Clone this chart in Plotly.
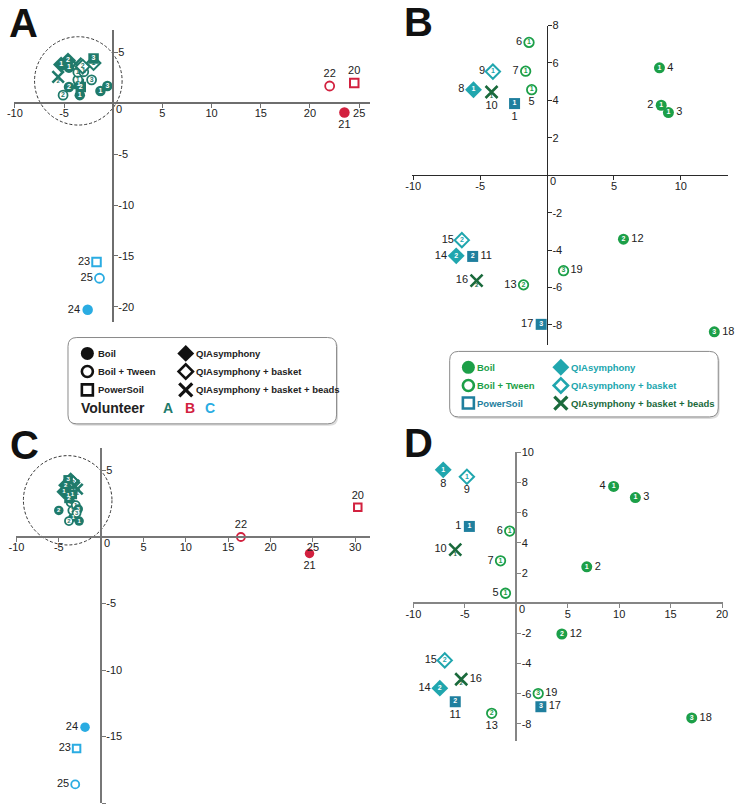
import plotly.graph_objects as go

W, H = 738, 807

# ---------------- data ----------------
sample_id = list(range(1, 26))
method = ["PowerSoil", "Boil", "Boil", "Boil", "Boil+Tween", "Boil+Tween", "Boil+Tween",
          "QIAsymphony", "QIAsymphony+basket", "QIAsymphony+basket+beads",
          "PowerSoil", "Boil", "Boil+Tween", "QIAsymphony", "QIAsymphony+basket",
          "QIAsymphony+basket+beads",
          "PowerSoil", "Boil", "Boil+Tween",
          "PowerSoil", "Boil", "Boil+Tween",
          "PowerSoil", "Boil", "Boil+Tween"]
replicate = ["1"] * 10 + ["2"] * 6 + ["3"] * 3 + [""] * 6
volunteer = ["A"] * 19 + ["B"] * 3 + ["C"] * 3

# Panel A (all 25 samples)
a_x = [-3.5, -3.4, -1.3, -4.5, -3.6, -3.6, -3.0, -5.3, -2.0, -3.8, -3.3, -4.5, -5.1,
       -4.6, -3.1, -5.6, -2.0, -0.6, -2.2, 24.5, 23.5, 22.0, -1.7, -2.6, -1.4]
a_y = [1.9, 0.8, 1.2, 3.5, 2.3, 3.05, 3.1, 3.8, 3.95, 3.9, 1.6, 1.6, 0.8,
       4.2, 3.6, 2.6, 4.4, 1.7, 2.3, 2.0, -0.9, 1.7, -15.6, -20.3, -17.2]

# Panel B (volunteer A samples 1-19)
b_x = [-2.43, 8.53, 9.07, 8.4, -1.15, -1.35, -1.6, -5.5, -4.05, -4.15, -5.56, 5.71,
       -1.76, -6.79, -6.37, -5.27, -0.44, 12.5, 1.23]
b_y = [3.83, 3.74, 3.35, 5.74, 4.57, 7.1, 5.56, 4.57, 5.54, 4.45, -4.34, -3.42,
       -5.86, -4.31, -3.47, -5.63, -7.97, -8.37, -5.1]
b_lab = ["bottom center", "middle left", "middle right", "middle right", "bottom center",
         "middle left", "middle left", "middle left", "middle left", "bottom center",
         "middle right", "middle right", "middle left", "middle left", "middle left",
         "middle left", "middle left", "middle right", "middle right"]

# Panel C (all 25 samples)
c_x = [-3.4, -3.3, -2.6, -3.9, -3.4, -3.6, -3.0, -4.4, -3.6, -2.8, -3.8, -5.0, -3.8,
       -4.2, -3.3, -3.2, -3.9, -2.7, -2.9, 30.3, 24.6, 16.5, -2.9, -1.9, -3.06]
c_y = [3.2, 1.5, 1.2, 3.1, 2.0, 2.6, 2.4, 3.4, 4.3, 3.6, 2.9, 2.0, 1.2,
       3.9, 4.1, 3.9, 4.3, 2.1, 1.8, 2.24, -1.24, 0.0, -15.9, -14.3, -18.6]

# Panel D (volunteer A samples 1-19)
d_x = [-4.56, 6.85, 11.57, 9.46, -1.05, -0.64, -1.53, -7.1, -4.8, -5.93, -5.93, 4.43,
       -2.39, -7.43, -6.95, -5.35, 2.39, 17.05, 2.13]
d_y = [5.09, 2.41, 7.0, 7.74, 0.66, 4.78, 2.81, 8.84, 8.38, 3.55, -6.53, -2.04,
       -7.3, -5.63, -3.79, -5.04, -6.86, -7.6, -5.99]
d_lab = ["middle left", "middle right", "middle right", "middle left", "middle left",
         "middle left", "middle left", "bottom center", "bottom center", "middle left",
         "bottom center", "middle right", "bottom center", "middle left", "middle left",
         "middle right", "middle right", "middle right", "middle right"]

# labels of the outlying samples 20-25 in panels A and C
ac_lab = ["top center", "bottom center", "top center", "middle left", "middle left", "middle left"]

# ticks
a_xticks = [-10, -5, 5, 10, 15, 20, 25]
a_yticks = [5, -5, -10, -15, -20]
b_xticks = [-10, -5, 5, 10]
b_yticks = [8, 6, 4, 2, -2, -4, -6, -8]
c_xticks = [-10, -5, 5, 10, 15, 20, 25, 30]
c_yticks = [5, -5, -10, -15, -20]
d_xticks = [-10, -5, 5, 10, 15, 20]
d_yticks = [10, 8, 6, 4, 2, -2, -4, -6, -8]

legend_methods_col1 = ["Boil", "Boil + Tween", "PowerSoil"]
legend_methods_col2 = ["QIAsymphony", "QIAsymphony + basket", "QIAsymphony + basket + beads"]
volunteer_names = ["A", "B", "C"]

# ---------------- styles ----------------
VOL_COLOR = {"A": "#1f7a6b", "B": "#d2213f", "C": "#2aace2"}
METH_COLOR = {"Boil": "#1c9f48", "Boil+Tween": "#1c9f48", "PowerSoil": "#1f7f9e",
              "QIAsymphony": "#20a6ae", "QIAsymphony+basket": "#20a6ae",
              "QIAsymphony+basket+beads": "#1a6a3c"}
FONT = "Liberation Sans, Arial, sans-serif"
LFONT = "Liberation Sans, Arial, sans-serif"

# panel geometry in pixels: origin (ox, oy), pixels per unit, axis ranges
GEOM = {
    1: dict(ox=108.0, sx=10.0, xr=(-10.1, 26.1), oy=98.0, sy=10.25, yr=(-21.5, 7.2),
            col="#6e6e6e", lw=1.6),
    2: dict(ox=549.0, sx=13.6, xr=(-10.1, 13.5), oy=170.5, sy=18.85, yr=(-9.1, 8.0),
            col="#2a2a2a", lw=1.3),
    3: dict(ox=95.7, sx=8.61, xr=(-10.1, 31.8), oy=535.0, sy=13.4, yr=(-20.0, 6.7),
            col="#777777", lw=2.0),
    4: dict(ox=517.7, sx=10.46, xr=(-10.05, 20.1), oy=601.7, sy=15.2, yr=(-9.1, 10.0),
            col="#858585", lw=2.4),
}

fig = go.Figure()
layout = dict(width=W, height=H, margin=dict(l=0, r=0, t=0, b=0),
              paper_bgcolor="white", plot_bgcolor="rgba(0,0,0,0)", showlegend=False)
annotations = []
shapes = []


def add_axes(n, xt, yt):
    g = GEOM[n]
    px_l = g["ox"] + g["sx"] * g["xr"][0]
    px_r = g["ox"] + g["sx"] * g["xr"][1]
    py_t = g["oy"] - g["sy"] * g["yr"][1]
    py_b = g["oy"] - g["sy"] * g["yr"][0]
    sfx = "" if n == 1 else str(n)
    common = dict(showline=True, linecolor=g["col"], linewidth=g["lw"], ticks="outside",
                  ticklen=4, tickwidth=1, tickcolor=g["col"], showgrid=False,
                  zeroline=False, fixedrange=True, anchor="free",
                  tickfont=dict(family=FONT, size=11, color="#222"))
    layout["xaxis" + sfx] = dict(common, domain=[px_l / W, px_r / W], range=list(g["xr"]),
                                 position=1 - g["oy"] / H, side="bottom",
                                 ticklabelstandoff=-4,
                                 tickvals=xt, ticktext=[str(v) for v in xt])
    layout["yaxis" + sfx] = dict(common, domain=[1 - py_b / H, 1 - py_t / H],
                                 range=list(g["yr"]), position=g["ox"] / W, side="right",
                                 ticklabelstandoff=-2,
                                 tickvals=yt, ticktext=[str(v) for v in yt])
    annotations.append(dict(xref="x" + sfx, yref="y" + sfx, x=0, y=0, text="0",
                            showarrow=False, xanchor="left", yanchor="top",
                            xshift=1, yshift=2, font=dict(family=FONT, size=11, color="#222")))


def marker_arrays(idx, colors, size):
    sym, fill, lcol, lw, txt, tcol, sz = [], [], [], [], [], [], []
    for i, c in zip(idx, colors):
        m, r = method[i], replicate[i]
        s = size
        if m == "Boil":
            sym.append("circle"); fill.append(c); lcol.append(c); lw.append(0)
            txt.append(r); tcol.append("white")
        elif m == "Boil+Tween":
            sym.append("circle"); fill.append("white"); lcol.append(c); lw.append(1.8)
            txt.append(r); tcol.append(c); s = size - 1.5
        elif m == "PowerSoil":
            if r:
                sym.append("square"); fill.append(c); lcol.append(c); lw.append(0)
                txt.append(r); tcol.append("white")
            else:
                sym.append("square"); fill.append("white"); lcol.append(c); lw.append(2)
                txt.append(""); tcol.append(c); s = size - 2
        elif m == "QIAsymphony":
            sym.append("diamond"); fill.append(c); lcol.append(c); lw.append(0)
            txt.append(r); tcol.append("white"); s = size + 2
        elif m == "QIAsymphony+basket":
            sym.append("diamond"); fill.append("white"); lcol.append(c); lw.append(2)
            txt.append(r); tcol.append(c); s = size
        else:
            sym.append("x-thin"); fill.append(c); lcol.append(c); lw.append(2.6)
            txt.append(""); tcol.append(c); s = size + 1
        sz.append(s)
    return sym, fill, lcol, lw, txt, tcol, sz


def add_points(n, xs, ys, idx, colors, size, lab_idx, lab_pos, numsize=7):
    sfx = "" if n == 1 else str(n)
    sym, fill, lcol, lw, txt, tcol, sz = marker_arrays(idx, colors, size)
    fig.add_trace(go.Scatter(
        x=xs, y=ys, mode="markers+text", xaxis="x" + sfx, yaxis="y" + sfx,
        marker=dict(symbol=sym, color=fill, size=sz, opacity=1,
                    line=dict(color=lcol, width=lw)),
        text=txt, textposition="middle center",
        textfont=dict(family=FONT, size=numsize, color=tcol, weight="bold"),
        hoverinfo="skip", cliponaxis=False))
    # replicate number below the X markers
    xi = [k for k, i in enumerate(idx) if method[i] == "QIAsymphony+basket+beads" and replicate[i]]
    if xi:
        fig.add_trace(go.Scatter(
            x=[xs[k] for k in xi], y=[ys[k] for k in xi], mode="markers+text",
            xaxis="x" + sfx, yaxis="y" + sfx, marker=dict(size=1, opacity=0),
            text=[replicate[idx[k]] for k in xi], textposition="bottom center",
            textfont=dict(family=FONT, size=6, color=[colors[k] for k in xi], weight="bold"),
            hoverinfo="skip", cliponaxis=False))
    # sample labels
    fig.add_trace(go.Scatter(
        x=[xs[k] for k in lab_idx], y=[ys[k] for k in lab_idx], mode="markers+text",
        xaxis="x" + sfx, yaxis="y" + sfx,
        marker=dict(size=[sz[k] for k in lab_idx], opacity=0),
        text=[str(sample_id[idx[k]]) for k in lab_idx], textposition=lab_pos,
        textfont=dict(family=FONT, size=11, color="#222"),
        hoverinfo="skip", cliponaxis=False))


# axes
add_axes(1, a_xticks, a_yticks)
add_axes(2, b_xticks, b_yticks)
add_axes(3, c_xticks, c_yticks)
add_axes(4, d_xticks, d_yticks)

all_idx = list(range(25))
volA_idx = list(range(19))
vol_colors = [VOL_COLOR[v] for v in volunteer]
meth_colors = [METH_COLOR[method[i]] for i in volA_idx]

# dashed circles round the volunteer-A cluster (pixel radius 44-45)
for n, cx, cy, rpx in [(1, -3.55, 2.2, 44.5), (3, -3.95, 2.76, 45.0)]:
    g = GEOM[n]
    sfx = "" if n == 1 else str(n)
    shapes.append(dict(type="circle", xref="x" + sfx, yref="y" + sfx,
                       x0=cx - rpx / g["sx"], x1=cx + rpx / g["sx"],
                       y0=cy - rpx / g["sy"], y1=cy + rpx / g["sy"],
                       line=dict(color="#333", width=1, dash="3px,2px"), layer="below"))

add_points(1, a_x, a_y, all_idx, vol_colors, 10.5, list(range(19, 25)), ac_lab)
add_points(2, b_x, b_y, volA_idx, meth_colors, 11, list(range(19)), b_lab)
add_points(3, c_x, c_y, all_idx, vol_colors, 9.5, list(range(19, 25)), ac_lab, numsize=6)
add_points(4, d_x, d_y, volA_idx, meth_colors, 11, list(range(19)), d_lab)

# ---------------- legends ----------------
def rrect(x0, y0, x1, y1, r):
    return (f"M {x0 + r},{y0} L {x1 - r},{y0} Q {x1},{y0} {x1},{y0 + r} "
            f"L {x1},{y1 - r} Q {x1},{y1} {x1 - r},{y1} L {x0 + r},{y1} "
            f"Q {x0},{y1} {x0},{y1 - r} L {x0},{y0 + r} Q {x0},{y0} {x0 + r},{y0} Z")


def legend_axes(n, px0, px1, py0, py1):
    layout["xaxis" + str(n)] = dict(domain=[px0 / W, px1 / W], range=[px0, px1],
                                    visible=False, fixedrange=True, anchor="y" + str(n))
    layout["yaxis" + str(n)] = dict(domain=[1 - py1 / H, 1 - py0 / H], range=[py1, py0],
                                    visible=False, fixedrange=True, anchor="x" + str(n))


legend_axes(5, 50, 345, 326, 432)
legend_axes(6, 440, 735, 340, 426)

for n, (x0, y0, x1, y1) in [(5, (62, 334, 335, 421)), (6, (450, 348, 723, 414))]:
    shapes.append(dict(type="path", xref=f"x{n}", yref=f"y{n}",
                       path=rrect(x0 + 1.5, y0 + 2, x1 + 1.5, y1 + 2, 9),
                       fillcolor="#dcdcdc", line=dict(width=0), layer="below"))
    shapes.append(dict(type="path", xref=f"x{n}", yref=f"y{n}", path=rrect(x0, y0, x1, y1, 9),
                       fillcolor="white", line=dict(color="#8a8a8a", width=1), layer="below"))

leg_symbols_col1 = ["circle", "circle-open", "square-open"]
leg_symbols_col2 = ["diamond", "diamond-open", "x-thin"]
leg_sizes_col1 = [13, 11, 11]
leg_sizes_col2 = [13, 11, 13]


def add_legend(n, colx, txtx, rows, col_colors1, col_colors2, txt_colors1, txt_colors2):
    xs = [colx[0]] * 3 + [colx[1]] * 3
    ys = rows + rows
    syms = leg_symbols_col1 + leg_symbols_col2
    sizes = leg_sizes_col1 + leg_sizes_col2
    cols = col_colors1 + col_colors2
    lws = [0, 2.6, 2.6, 0, 2.6, 3.2]
    fig.add_trace(go.Scatter(x=xs, y=ys, mode="markers", xaxis=f"x{n}", yaxis=f"y{n}",
                             marker=dict(symbol=syms, size=sizes, color=cols, opacity=1,
                                         line=dict(color=cols, width=lws)),
                             hoverinfo="skip", cliponaxis=False))
    for lab, y, c in zip(legend_methods_col1, rows, txt_colors1):
        annotations.append(dict(xref=f"x{n}", yref=f"y{n}", x=txtx[0], y=y, text=lab,
                                showarrow=False, xanchor="left", yanchor="middle",
                                font=dict(family=LFONT, size=9.5, color=c, weight="bold")))
    for lab, y, c in zip(legend_methods_col2, rows, txt_colors2):
        annotations.append(dict(xref=f"x{n}", yref=f"y{n}", x=txtx[1], y=y, text=lab,
                                showarrow=False, xanchor="left", yanchor="middle",
                                font=dict(family=LFONT, size=9.5, color=c, weight="bold")))


add_legend(5, (81.7, 181.7), (90.5, 190.5), [350, 368.3, 386.7],
           ["#111"] * 3, ["#111"] * 3, ["#222"] * 3, ["#222"] * 3)
annotations.append(dict(xref="x5", yref="y5", x=73, y=405.5, text="Volunteer", showarrow=False,
                        xanchor="left", yanchor="middle",
                        font=dict(family=LFONT, size=14, color="#222", weight="bold")))
for name, xc in zip(volunteer_names, [164, 186, 206]):
    annotations.append(dict(xref="x5", yref="y5", x=xc, y=405.5, text=name, showarrow=False,
                            xanchor="center", yanchor="middle",
                            font=dict(family=LFONT, size=14, color=VOL_COLOR[name],
                                      weight="bold")))

add_legend(6, (469, 563), (476, 571.5), [364, 382.3, 400],
           [METH_COLOR["Boil"], METH_COLOR["Boil+Tween"], METH_COLOR["PowerSoil"]],
           [METH_COLOR["QIAsymphony"], METH_COLOR["QIAsymphony+basket"],
            METH_COLOR["QIAsymphony+basket+beads"]],
           [METH_COLOR["Boil"], METH_COLOR["Boil+Tween"], METH_COLOR["PowerSoil"]],
           [METH_COLOR["QIAsymphony"], METH_COLOR["QIAsymphony+basket"],
            METH_COLOR["QIAsymphony+basket+beads"]])

# panel letters
for letter, px, py in [("A", 0, -7), ("B", 402, -8), ("C", 1, 418), ("D", 402, 416)]:
    annotations.append(dict(xref="paper", yref="paper", x=px / W, y=1 - py / H, text=letter,
                            showarrow=False, xanchor="left", yanchor="top",
                            font=dict(family=FONT, size=40, color="#111", weight="bold")))

layout["annotations"] = annotations
layout["shapes"] = shapes
fig.update_layout(**layout)
fig.write_html("out.html", config={"displayModeBar": False},
               post_script="document.body.style.margin='0px';document.body.style.overflow='hidden';")
